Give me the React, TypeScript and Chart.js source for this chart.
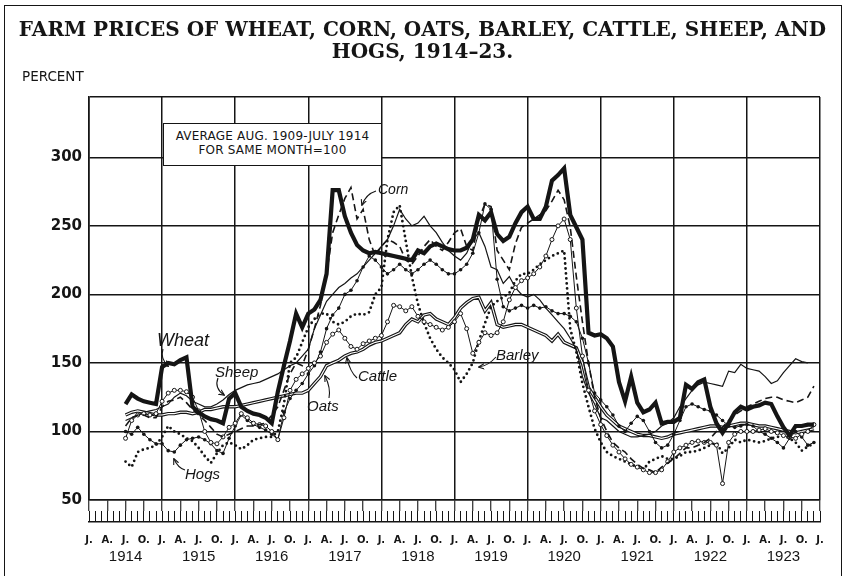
import React, { useEffect, useRef } from 'react';
import { Chart, registerables } from 'chart.js';

Chart.register(...registerables);

// months counted from Jan 1914 = 0; series start Jul 1914
const START_MONTH = 6;
const yearLabels = ['1914', '1915', '1916', '1917', '1918', '1919', '1920', '1921', '1922', '1923'];
const quarterLetters = ['J.', 'A.', 'J.', 'O.'];
const yTickValues = [50, 100, 150, 200, 250, 300];
const Y_MIN = 50;
const Y_MAX = 344;
const X_MAX = 120;

const wheat = [
  120, 127, 124, 122, 121, 120,
  147, 150, 149, 152, 154, 118, 114, 111, 109, 108, 106, 124,
  128, 118, 115, 113, 112, 110, 106, 129, 148, 166, 186, 176,
  186, 189, 196, 215, 276, 276, 257, 245, 236, 232, 230, 231,
  230, 229, 228, 227, 226, 225, 232, 230, 235, 237, 235, 233,
  232, 232, 234, 240, 258, 254, 260, 244, 239, 242, 252, 260,
  264, 255, 255, 264, 283, 287, 292, 258, 249, 240, 172, 170,
  171, 168, 162, 136, 122, 140, 121, 114, 116, 121, 106, 107,
  107, 110, 134, 131, 136, 138, 118, 106, 99, 106, 114, 118,
  116, 118, 119, 121, 120, 111, 103, 97, 104, 104, 105, 105,
];
const corn = [
  104, 110, 112, 112, 110, 110,
  118, 122, 123, 125, 121, 116, 112, 108, 103, 98, 96, 98,
  100, 102, 104, 104, 105, 106, 112, 118, 130, 142, 150, 148,
  160, 175, 192, 215, 245, 258, 270, 278, 255, 262, 240, 228,
  235, 240, 238, 235, 225, 222, 228, 235, 240, 235, 232, 238,
  245, 248, 235, 232, 255, 266, 264, 232, 225, 218, 237, 249,
  252, 255, 258, 261, 268, 276, 269, 249, 213, 180, 150, 125,
  110, 100, 92, 88, 85, 80, 76, 73, 72, 70, 74, 77,
  80, 84, 88, 88, 90, 92, 95, 100, 103, 108, 112, 115,
  118, 120, 122, 124, 125, 125, 123, 122, 121, 123, 125, 133,
];
const oats = [
  95, 108, 112, 113, 112, 113,
  122, 128, 130, 130, 129, 125, 115, 100, 92, 91, 96, 103,
  106, 113, 110, 106, 105, 104, 100, 94, 110, 130, 138, 142,
  146, 150, 155, 165, 171, 174, 168, 162, 160, 164, 166, 168,
  170, 180, 192, 191, 188, 191, 184, 180, 178, 176, 174, 176,
  180, 186, 175, 157, 165, 172, 170, 172, 180, 196, 205, 210,
  212, 215, 220, 228, 240, 250, 255, 240, 190, 155, 130, 115,
  105, 97, 90, 85, 80, 76, 74, 72, 70, 70, 72, 78,
  85, 88, 90, 92, 93, 92, 92, 90, 62, 92, 98, 100,
  100, 100, 101, 102, 100, 99, 97, 96, 95, 98, 100, 105,
];
const barley = [
  78, 74, 85, 87, 88, 90,
  96, 104, 100, 98, 95, 93, 88, 82, 77, 84, 90, 92,
  90, 87, 90, 94, 95, 96, 96, 100, 120, 150, 154, 165,
  176, 182, 186, 186, 180, 178, 180, 184, 186, 185, 187, 200,
  205, 240, 260, 265, 239, 213, 193, 179, 168, 160, 154, 150,
  145, 136, 142, 150, 166, 179, 191, 195, 198, 201, 210, 215,
  215, 218, 222, 225, 228, 230, 232, 175, 158, 135, 118, 102,
  92, 85, 82, 80, 78, 76, 74, 72, 78, 80, 82, 80,
  80, 82, 85, 85, 86, 88, 90, 92, 84, 88, 94, 92,
  94, 93, 92, 93, 95, 96, 97, 95, 92, 86, 89, 91,
];
const cattle = [
  112, 114, 115, 114, 113, 112,
  112, 113, 113, 114, 114, 113, 114, 116, 116, 117, 118, 118,
  118, 119, 120, 121, 122, 123, 124, 125, 126, 127, 128, 128,
  130, 135, 140, 148, 150, 152, 155, 157, 158, 160, 163, 165,
  166, 168, 170, 172, 178, 182, 180, 185, 186, 182, 180, 178,
  183, 190, 194, 197, 198, 188, 194, 178, 176, 177, 178, 178,
  176, 174, 172, 170, 166, 171, 165, 163, 161, 150, 132, 125,
  118, 112, 108, 104, 102, 100, 98, 97, 97, 96, 95, 96,
  98, 99, 100, 101, 102, 103, 104, 104, 103, 104, 105, 106,
  106, 105, 104, 104, 103, 102, 101, 100, 99, 100, 101, 102,
];
const sheep = [
  108, 110, 112, 114, 115, 116,
  118, 120, 125, 128, 126, 122, 120, 118, 118, 120, 123, 127,
  130, 132, 134, 135, 136, 138, 140, 142, 145, 148, 150, 155,
  160, 175, 185, 195, 200, 205, 208, 212, 215, 220, 225, 230,
  235, 240, 250, 262, 255, 250, 252, 257, 250, 245, 238, 232,
  228, 225, 230, 240, 245, 235, 220, 218, 208, 213, 205, 200,
  198, 200, 196, 190, 185, 180, 175, 168, 160, 140, 128, 120,
  110, 108, 104, 100, 98, 96, 96, 97, 98, 100, 104, 106,
  110, 118, 124, 130, 134, 136, 135, 134, 133, 144, 143, 149,
  146, 145, 144, 140, 135, 137, 143, 148, 153, 151, 150, null,
];
const hogs = [
  100, 98, 103, 98, 94, 91,
  91, 86, 85, 90, 94, 95, 96, 94, 91, 86, 84, 95,
  104, 112, 108, 105, 103, 101, 98, 94, 114, 124, 130, 135,
  142, 148, 158, 175, 185, 190, 200, 203, 210, 220, 228, 225,
  220, 215, 218, 222, 218, 215, 218, 222, 225, 222, 218, 215,
  215, 218, 222, 230, 245, 266, 262, 211, 191, 188, 190, 192,
  190, 192, 190, 191, 188, 186, 186, 184, 180, 168, 150, 128,
  123, 118, 112, 104, 100, 106, 111, 108, 100, 92, 88, 90,
  98, 108, 118, 120, 118, 116, 115, 112, 108, 104, 103, 104,
  105, 104, 100, 98, 95, 92, 88, 95, 100, 96, 90, 92,
];

const INK = '#151515';

function toPoints(arr: (number | null)[]) {
  const out: { x: number; y: number }[] = [];
  arr.forEach((v, i) => {
    if (v !== null) out.push({ x: START_MONTH + i, y: v });
  });
  return out;
}

function range(from: number, to: number, step: number) {
  const r: number[] = [];
  for (let v = from; v <= to; v += step) r.push(v);
  return r;
}

const labelStyle: React.CSSProperties = {
  position: 'absolute',
  fontFamily: '"Liberation Sans", Arial, sans-serif',
  fontStyle: 'italic',
  fontSize: 15,
  color: INK,
  lineHeight: '16px',
  whiteSpace: 'nowrap',
};

// leader curves from the series names to their lines (decorative)
const leaders = [
  'M163,349 Q160,358 168,366',
  'M376,191 Q366,194 362,205',
  'M218,378 Q214,388 224,395',
  'M357,378 Q350,372 347,358',
  'M329,398 Q331,388 325,376',
  'M185,470 Q178,468 174,459',
  'M496,357 Q488,366 479,367',
];

export default function App() {
  const ref = useRef<HTMLCanvasElement>(null);

  useEffect(() => {
    if (!ref.current) return;
    const base = { tension: 0, pointRadius: 0, fill: false, borderColor: INK };
    const chart = new Chart(ref.current, {
      type: 'line',
      data: {
        datasets: [
          { ...base, label: 'Wheat', data: toPoints(wheat), borderWidth: 4.2, order: 0, borderJoinStyle: 'miter' },
          { ...base, label: 'Corn', data: toPoints(corn), borderWidth: 1.6, borderDash: [7, 4], order: 1 },
          {
            ...base, label: 'Oats', data: toPoints(oats), borderWidth: 1, order: 2,
            pointRadius: 2, pointBackgroundColor: '#fff', pointBorderColor: INK, pointBorderWidth: 1,
          },
          {
            ...base, label: 'Barley', data: toPoints(barley), borderWidth: 2.8, borderDash: [0, 5],
            borderCapStyle: 'round', order: 3,
          },
          {
            ...base, label: 'Hogs', data: toPoints(hogs), borderWidth: 1, order: 4,
            pointRadius: 1.8, pointBackgroundColor: INK, pointBorderColor: INK, pointBorderWidth: 0,
          },
          { ...base, label: 'Sheep', data: toPoints(sheep), borderWidth: 1.2, order: 5 },
          { ...base, label: 'Cattle inner', data: toPoints(cattle), borderWidth: 1.1, borderColor: '#fff', order: 6 },
          { ...base, label: 'Cattle', data: toPoints(cattle), borderWidth: 3.4, order: 7 },
        ],
      },
      options: {
        responsive: false,
        animation: false,
        devicePixelRatio: 1,
        layout: { padding: { top: 97, right: 25, bottom: 4, left: 0 } },
        plugins: { legend: { display: false }, tooltip: { enabled: false }, title: { display: false } },
        elements: { line: { borderCapStyle: 'butt' } },
        scales: {
          x: {
            type: 'linear', position: 'bottom', weight: 1, min: 0, max: X_MAX,
            afterBuildTicks: (axis: any) => { axis.ticks = range(0, X_MAX, 1).map((v) => ({ value: v })); },
            afterFit: (axis: any) => { axis.height = 11; },
            ticks: { display: false },
            grid: {
              color: (ctx: any) => (ctx.tick && ctx.tick.value % 12 === 0 ? INK : 'rgba(0,0,0,0)'),
              lineWidth: 1.5,
              tickLength: 11,
              tickWidth: 1.1,
              tickColor: (ctx: any) => (ctx.tick && ctx.tick.value % 3 === 0 ? INK : 'rgba(0,0,0,0)'),
            },
            border: { display: true, color: INK, width: 1.6 },
          },
          xm: {
            type: 'linear', position: 'bottom', weight: 2, min: 0, max: X_MAX,
            afterBuildTicks: (axis: any) => { axis.ticks = range(0, X_MAX, 1).map((v) => ({ value: v })); },
            afterFit: (axis: any) => { axis.height = 11; },
            ticks: { display: false },
            grid: { drawOnChartArea: false, tickLength: 11, tickWidth: 1, tickColor: INK, color: INK },
            border: { display: false },
          },
          xl: {
            type: 'linear', position: 'bottom', weight: 3, min: 0, max: X_MAX,
            afterBuildTicks: (axis: any) => { axis.ticks = range(0, X_MAX, 3).map((v) => ({ value: v })); },
            afterFit: (axis: any) => { axis.height = 26; },
            ticks: {
              autoSkip: false, maxRotation: 0, padding: 12, color: INK,
              font: { family: '"DejaVu Sans", sans-serif', size: 10, weight: 'bold' },
              callback: (value: any) => quarterLetters[(Number(value) / 3) % 4],
            },
            grid: { drawOnChartArea: false, drawTicks: false, color: 'rgba(0,0,0,0)' },
            border: { display: true, color: INK, width: 1.6 },
          },
          xy: {
            type: 'linear', position: 'bottom', weight: 4, min: 0, max: X_MAX,
            afterBuildTicks: (axis: any) => { axis.ticks = yearLabels.map((_, i) => ({ value: i * 12 + 6 })); },
            afterFit: (axis: any) => { axis.height = 24; },
            ticks: {
              autoSkip: false, maxRotation: 0, padding: 0, color: INK,
              font: { family: '"Liberation Sans", sans-serif', size: 15 },
              callback: (value: any) => yearLabels[Math.floor(Number(value) / 12)],
            },
            grid: { display: false, drawTicks: false },
            border: { display: false },
          },
          y: {
            type: 'linear', position: 'left', min: Y_MIN, max: Y_MAX,
            afterBuildTicks: (axis: any) => { axis.ticks = [...yTickValues, Y_MAX].map((v) => ({ value: v })); },
            afterFit: (axis: any) => { axis.width = 89; },
            ticks: {
              padding: 7, color: INK,
              font: { family: '"DejaVu Sans", sans-serif', size: 15, weight: 'bold' },
              callback: (value: any) => (yTickValues.includes(Number(value)) ? String(value) : ''),
            },
            grid: { color: INK, lineWidth: 1.5, drawTicks: false },
            border: { display: true, color: INK, width: 1.6 },
          },
        },
      },
    });
    return () => chart.destroy();
  }, []);

  return (
    <div style={{ position: 'fixed', left: 0, top: 0, width: 845, height: 576, background: '#fff', overflow: 'hidden' }}>
      <canvas ref={ref} width={845} height={576} style={{ position: 'absolute', left: 0, top: 0 }} />
      <svg width={845} height={576} style={{ position: 'absolute', left: 0, top: 0, pointerEvents: 'none' }}>
        <defs>
          <marker id="ah" viewBox="0 0 10 10" refX="8" refY="5" markerWidth="6" markerHeight="6" orient="auto-start-reverse">
            <path d="M0,1 L9,5 L0,9" fill="none" stroke={INK} strokeWidth="1.6" />
          </marker>
        </defs>
        {leaders.map((d, i) => (
          <path key={i} d={d} fill="none" stroke={INK} strokeWidth={1.1} markerEnd="url(#ah)" />
        ))}
      </svg>
      <div
        style={{
          position: 'absolute', left: 4, top: 5, width: 836, height: 580,
          border: `1.5px solid ${INK}`, borderBottom: 'none', pointerEvents: 'none',
        }}
      />
      <div
        style={{
          position: 'absolute', left: 0, top: 18, width: 845, textAlign: 'center',
          fontFamily: '"DejaVu Serif", "Liberation Serif", serif', fontWeight: 'bold', fontSize: 20,
          lineHeight: '22px', color: INK,
        }}
      >
        <div>FARM PRICES OF WHEAT, CORN, OATS, BARLEY, CATTLE, SHEEP, AND</div>
        <div>HOGS, 1914–23.</div>
      </div>
      <div
        style={{
          position: 'absolute', left: 22, top: 68, fontFamily: '"DejaVu Sans", sans-serif', fontSize: 13.5,
          color: INK, lineHeight: '16px',
        }}
      >
        PERCENT
      </div>
      <div
        style={{
          position: 'absolute', left: 163, top: 123, width: 219, height: 43, background: '#fff',
          border: `1.5px solid ${INK}`, boxSizing: 'border-box', textAlign: 'center',
          fontFamily: '"DejaVu Sans", sans-serif', fontSize: 12, lineHeight: '14px', color: INK,
          paddingTop: 5, letterSpacing: 0.2,
        }}
      >
        <div>AVERAGE AUG. 1909-JULY 1914</div>
        <div>FOR SAME MONTH=100</div>
      </div>
      <div style={{ ...labelStyle, left: 157, top: 330, fontSize: 18, lineHeight: '20px' }}>Wheat</div>
      <div style={{ ...labelStyle, left: 378, top: 181, fontSize: 14 }}>Corn</div>
      <div style={{ ...labelStyle, left: 215, top: 364 }}>Sheep</div>
      <div style={{ ...labelStyle, left: 358, top: 368 }}>Cattle</div>
      <div style={{ ...labelStyle, left: 307, top: 398 }}>Oats</div>
      <div style={{ ...labelStyle, left: 185, top: 466 }}>Hogs</div>
      <div style={{ ...labelStyle, left: 496, top: 347 }}>Barley</div>
    </div>
  );
}
